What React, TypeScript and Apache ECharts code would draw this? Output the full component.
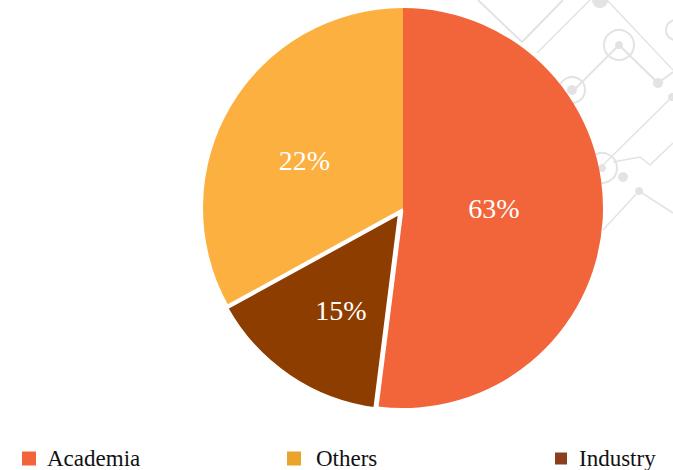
import React, { useEffect, useRef } from "react";
import * as echarts from "echarts";

const categories = ["Academia", "Industry", "Others"];
const values = [52, 15, 33];
const labelTexts = ["63%", "15%", "22%"];
const colors = ["#F2653A", "#8E3D00", "#FBB040"];
const legendOrder = ["Academia", "Others", "Industry"];
const legendColors = ["#F2653A", "#E9A42A", "#8B3E1E"];
const legendLefts = [22, 287, 553];
const legendTextGap = [6, 10, 6];
const labelShift = [
  [-12, -6],
  [-2, 14],
  [-10, 5],
];

const G = "#e3e3e3";

export default function App() {
  const ref = useRef<HTMLDivElement>(null);
  useEffect(() => {
    if (!ref.current) return;
    const chart = echarts.init(ref.current, null, { renderer: "svg" });
    const line = (x1: number, y1: number, x2: number, y2: number, w = 2) => ({
      type: "line",
      z: -10,
      shape: { x1, y1, x2, y2 },
      style: { stroke: G, lineWidth: w },
    });
    const ring = (cx: number, cy: number, r: number) => ({
      type: "circle",
      z: -10,
      shape: { cx, cy, r },
      style: { fill: "none", stroke: G, lineWidth: 2 },
    });
    const dot = (cx: number, cy: number, r: number) => ({
      type: "circle",
      z: -10,
      shape: { cx, cy, r },
      style: { fill: G },
    });
    const graphics = [
      line(478, 0, 522, 42),
      line(522, 42, 563, 0),
      line(537, 53, 590, 0, 1.5),
      dot(600, 0, 8),
      line(607, 0, 673, 70, 1.5),
      ring(619, 45, 15),
      dot(619, 45, 4),
      line(619, 45, 572, 92),
      ring(572, 90, 13),
      dot(572, 90, 5),
      line(619, 45, 658, 83),
      dot(658, 83, 5),
      line(658, 83, 673, 72),
      dot(672, 97, 4),
      line(672, 97, 600, 168, 1.5),
      ring(602, 168, 15),
      dot(602, 168, 4),
      {
        type: "polyline",
        z: -10,
        shape: { points: [[613, 162], [640, 157], [650, 165], [673, 143]] },
        style: { stroke: G, lineWidth: 1.5, fill: "none" },
      },
      dot(623, 177, 5),
      dot(639, 191, 4),
      line(639, 191, 673, 213, 1.5),
      line(639, 191, 603, 230, 1.5),
      ring(676, 30, 10),
    ];
    chart.setOption({
      animation: false,
      backgroundColor: "#ffffff",
      graphic: graphics,
      legend: legendOrder.map((name, i) => ({
        left: legendLefts[i],
        top: 446,
        padding: 0,
        itemWidth: 14,
        itemHeight: 14,
        icon: "rect",
        selectedMode: false,
        data: [{ name, itemStyle: { color: legendColors[i] } }],
        textStyle: {
          fontFamily: "Liberation Serif",
          fontSize: 23,
          lineHeight: 20,
          color: "#111",
          padding: [0, 0, 5, legendTextGap[i]],
        },
      })),
      series: [
        {
          type: "pie",
          center: [403, 208],
          radius: 200,
          startAngle: 90,
          clockwise: true,
          selectedMode: "single",
          selectedOffset: 4,
          label: {
            show: true,
            position: "inside",
            color: "#ffffff",
            fontFamily: "Liberation Serif",
            fontSize: 28,
            formatter: (p: any) => labelTexts[p.dataIndex],
          },
          labelLayout: (p: any) => ({
            dx: labelShift[p.dataIndex][0],
            dy: labelShift[p.dataIndex][1],
          }),
          labelLine: { show: false },
          emphasis: { disabled: true },
          data: categories.map((name, i) => ({
            name,
            value: values[i],
            selected: name === "Industry",
            itemStyle:
              name === "Industry"
                ? { color: colors[i], borderColor: "#ffffff", borderWidth: 5 }
                : { color: colors[i] },
          })),
        },
      ],
    });
    return () => chart.dispose();
  }, []);
  return (
    <div
      ref={ref}
      style={{ position: "fixed", left: 0, top: 0, width: 673, height: 470 }}
    />
  );
}
